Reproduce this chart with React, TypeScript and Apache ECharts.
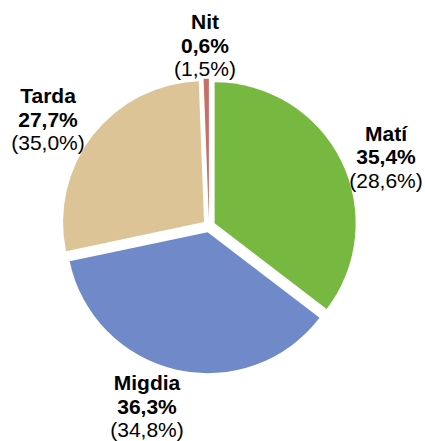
import React, { useEffect, useRef } from "react";
import * as echarts from "echarts";

const categories = ["Matí", "Migdia", "Tarda", "Nit"];
const shareValues = [35.4, 36.3, 27.7, 0.6];
const secondaryValues = [28.6, 34.8, 35.0, 1.5];
const colors = ["#77B940", "#6F89C9", "#DDC496", "#C96E64"];
// first-line centre of each label block (x, y)
const labelAnchors: [number, number][] = [
  [386, 133],
  [147, 382.5],
  [48, 95.5],
  [205, 21.5],
];

const fmt = (v: number) => v.toFixed(1).replace(".", ",") + "%";
const FONT = "Arial, 'Liberation Sans', sans-serif";
const LH = 23.5;
const FS = 21;

export default function App() {
  const ref = useRef<HTMLDivElement>(null);
  useEffect(() => {
    if (!ref.current) return;
    const chart = echarts.init(ref.current, null, { renderer: "svg" });
    const rich = {
      b: { fontSize: FS, fontWeight: "bold", fill: "#000", lineHeight: LH, fontFamily: FONT, align: "center" },
      n: { fontSize: FS, fill: "#000", lineHeight: LH, fontFamily: FONT, align: "center" },
    };
    chart.setOption({
      animation: false,
      backgroundColor: "#ffffff",
      graphic: categories.map((name, i) => ({
        type: "text",
        x: labelAnchors[i][0],
        y: labelAnchors[i][1] - LH / 2,
        silent: true,
        style: {
          text: `{b|${name}}\n{b|${fmt(shareValues[i])}}\n{n|(${fmt(secondaryValues[i])})}`,
          rich,
          align: "center",
          verticalAlign: "top",
          fontFamily: FONT,
          fontSize: FS,
          fill: "#000",
        },
      })),
      series: [
        {
          type: "pie",
          center: [209, 226],
          radius: 141,
          startAngle: 90,
          clockwise: true,
          selectedMode: "multiple",
          selectedOffset: 6.3,
          emphasis: { disabled: true },
          itemStyle: { borderWidth: 0 },
          labelLine: { show: false },
          label: { show: false },
          data: categories.map((name, i) => ({
            name,
            value: shareValues[i],
            selected: true,
            itemStyle: { color: colors[i] },
          })),
        },
      ],
    });
    return () => chart.dispose();
  }, []);
  return (
    <div
      ref={ref}
      style={{ position: "fixed", left: 0, top: 0, width: 425, height: 441 }}
    />
  );
}
